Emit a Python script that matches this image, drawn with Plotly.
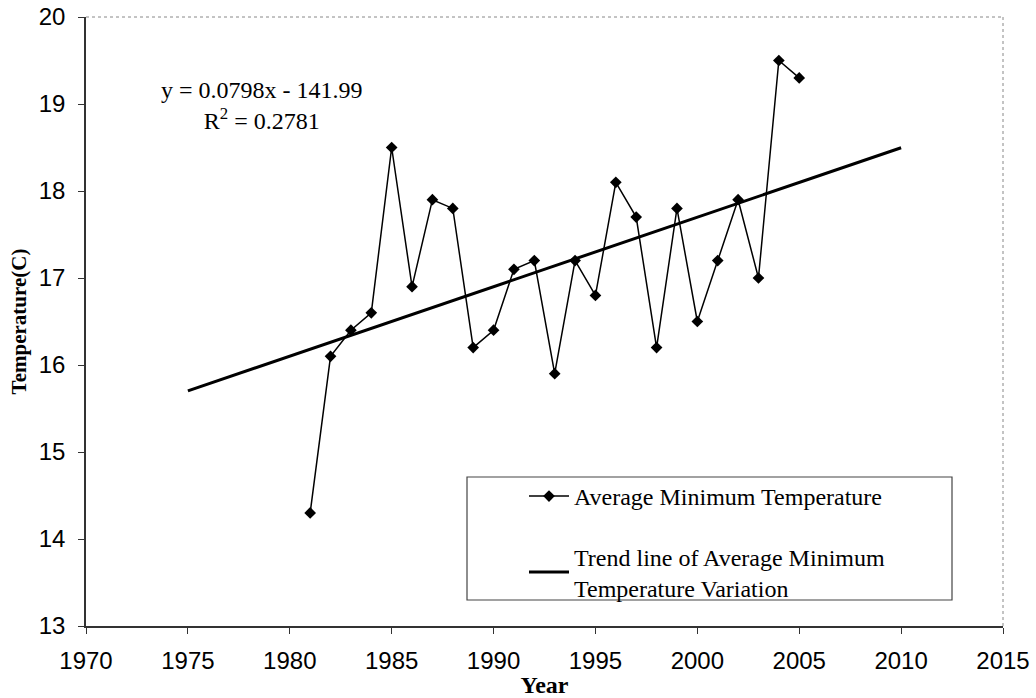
import numpy as np
import plotly.graph_objects as go

years = [1981, 1982, 1983, 1984, 1985, 1986, 1987, 1988, 1989, 1990, 1991, 1992, 1993,
         1994, 1995, 1996, 1997, 1998, 1999, 2000, 2001, 2002, 2003, 2004, 2005]
avg_min_temp = [14.3, 16.1, 16.4, 16.6, 18.5, 16.9, 17.9, 17.8, 16.2, 16.4, 17.1, 17.2, 15.9,
                17.2, 16.8, 18.1, 17.7, 16.2, 17.8, 16.5, 17.2, 17.9, 17.0, 19.5, 19.3]
trend_range = [1975, 2010]
x_ticks = [1970, 1975, 1980, 1985, 1990, 1995, 2000, 2005, 2010, 2015]
y_ticks = [13, 14, 15, 16, 17, 18, 19, 20]

slope, intercept = np.polyfit(years, avg_min_temp, 1)
trend_x = np.array(trend_range)
trend_y = slope * trend_x + intercept

# plot-area geometry in pixels (for placing annotations / legend frame)
L, R, T, B = 86, 1003, 17, 626
PW, PH = R - L, B - T


def px(xp):
    return (xp - L) / PW


def py(yp):
    return (B - yp) / PH


fig = go.Figure()
fig.add_trace(go.Scatter(
    x=years, y=avg_min_temp, mode="lines+markers",
    name="Average Minimum Temperature", legendgroup="a",
    line=dict(color="black", width=1.5),
    marker=dict(symbol="diamond", size=9, color="black"),
))
fig.add_trace(go.Scatter(
    x=trend_x, y=trend_y, mode="lines",
    name="Trend line of Average Minimum<br>Temperature Variation", legendgroup="b",
    line=dict(color="black", width=3),
))

fig.update_layout(
    width=1036, height=698,
    margin=dict(l=L, r=1036 - R, t=T, b=698 - B, autoexpand=False),
    paper_bgcolor="white", plot_bgcolor="white",
    showlegend=True,
    legend=dict(
        x=px(524), y=py(474), xanchor="left", yanchor="top",
        font=dict(family="Liberation Serif", size=24, color="black"),
        bgcolor="rgba(0,0,0,0)", borderwidth=0,
        tracegroupgap=26, itemwidth=40,
    ),
    xaxis=dict(
        range=[1970, 2015], tickvals=x_ticks, ticktext=[str(v) for v in x_ticks],
        showgrid=False, zeroline=False, automargin=False,
        showline=True, linecolor="#333", linewidth=1.5,
        ticks="outside", ticklen=6, tickcolor="#333",
        ticklabelstandoff=6,
        tickfont=dict(family="Liberation Sans", size=24, color="black"),
        title=dict(text="<b>Year</b>", standoff=5,
                   font=dict(family="Liberation Serif", size=24, color="black")),
    ),
    yaxis=dict(
        range=[13, 20], tickvals=y_ticks, ticktext=[str(v) for v in y_ticks],
        showgrid=False, zeroline=False, automargin=False,
        showline=True, linecolor="#333", linewidth=1.5,
        ticks="outside", ticklen=6, tickcolor="#333",
        ticklabelstandoff=8,
        tickfont=dict(family="Liberation Sans", size=24, color="black"),
        title=dict(text="<b>Temperature(C)</b>", standoff=6,
                   font=dict(family="Liberation Serif", size=21, color="black")),
    ),
    shapes=[
        dict(type="line", xref="paper", yref="paper", x0=0, x1=1, y0=1, y1=1,
             line=dict(color="#888", width=1, dash="dot")),
        dict(type="line", xref="paper", yref="paper", x0=1, x1=1, y0=0, y1=1,
             line=dict(color="#888", width=1, dash="dot")),
        dict(type="rect", xref="paper", yref="paper",
             x0=px(467), x1=px(952), y0=py(600), y1=py(477),
             line=dict(color="#444", width=1.2), fillcolor="rgba(0,0,0,0)"),
    ],
    annotations=[
        dict(xref="paper", yref="paper", x=px(262), y=py(105),
             xanchor="center", yanchor="middle", showarrow=False, align="center",
             text="y = 0.0798x - 141.99<br>R<sup>2</sup> = 0.2781",
             font=dict(family="Liberation Serif", size=24, color="black")),
    ],
)

fig.write_html("out.html")
